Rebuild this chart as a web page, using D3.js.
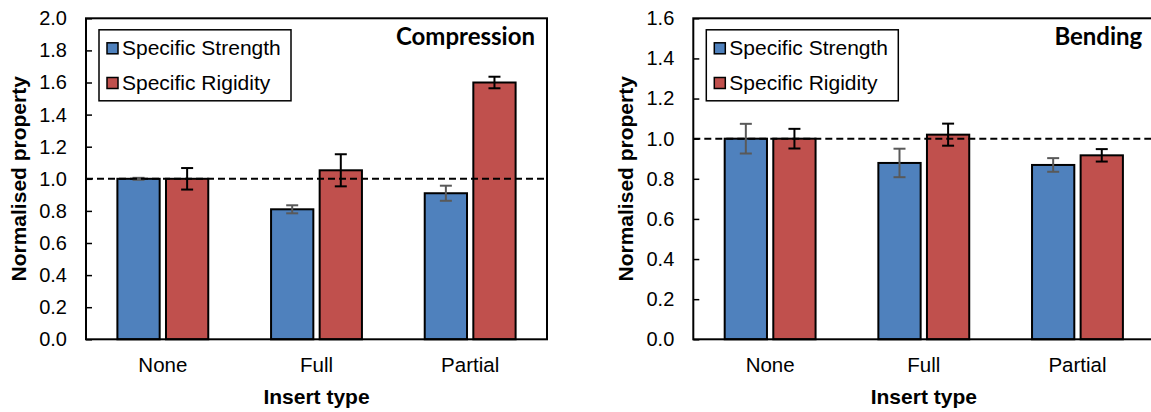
<!DOCTYPE html>
<html>
<head>
<meta charset="utf-8">
<script src="https://cdn.jsdelivr.net/npm/d3@7"></script>
<style>
  body { margin: 0; background: #fff; }
  text { font-family: "Liberation Sans", Arial, sans-serif; fill: #000; }
  .panelTitle { font-family: Lato, "Liberation Sans", sans-serif; font-weight: 700; }
</style>
</head>
<body>
<div class="chart"></div>
<script>
// Data
var categories = ["None", "Full", "Partial"];
var seriesNames = ["Specific Strength", "Specific Rigidity"];
var seriesColors = ["#4F81BD", "#C0504D"];
var errColors = ["#595959", "#000000"];

var compressionStrength = [1.00, 0.81, 0.91];
var compressionStrengthErr = [0.006, 0.025, 0.047];
var compressionRigidity = [1.00, 1.053, 1.60];
var compressionRigidityErr = [0.067, 0.10, 0.036];
var compressionTicks = [0, 0.2, 0.4, 0.6, 0.8, 1.0, 1.2, 1.4, 1.6, 1.8, 2.0];

var bendingStrength = [1.00, 0.879, 0.869];
var bendingStrengthErr = [0.074, 0.071, 0.034];
var bendingRigidity = [1.00, 1.02, 0.917];
var bendingRigidityErr = [0.049, 0.055, 0.031];
var bendingTicks = [0, 0.2, 0.4, 0.6, 0.8, 1.0, 1.2, 1.4, 1.6];

var referenceLine = 1.0;

var svgWidth = 1151;
var svgHeight = 412;

var svg = d3.select(".chart")
  .append("svg")
  .attr("width", svgWidth)
  .attr("height", svgHeight);

svg.append("rect")
  .attr("width", svgWidth)
  .attr("height", svgHeight)
  .attr("fill", "#fff");

function drawPanel(cfg) {
  var width = 461;
  var height = 321;

  var g = svg.append("g")
    .attr("transform", `translate(${cfg.left}, ${cfg.top})`);

  var x0 = d3.scaleBand()
    .domain(categories)
    .range([0, width])
    .padding(0);

  var x1 = d3.scaleBand()
    .domain(seriesNames)
    .range([0, x0.bandwidth()])
    .paddingInner(0.13)
    .paddingOuter(0.646);

  var y = d3.scaleLinear()
    .domain([0, d3.max(cfg.ticks)])
    .range([height, 0]);

  // rows: one per category, one entry per series
  var rows = categories.map(function(c, i) {
    return cfg.series.map(function(s, j) {
      return { cat: c, name: seriesNames[j], value: s.values[i], err: s.errs[i], idx: j };
    });
  });

  // y axis, ticks pointing inward
  var leftAxis = d3.axisLeft(y)
    .tickValues(cfg.ticks)
    .tickFormat(d3.format(".1f"))
    .tickSizeInner(-6)
    .tickSizeOuter(0)
    .tickPadding(19);

  var yAxisG = g.append("g").call(leftAxis);
  yAxisG.select(".domain").remove();
  yAxisG.selectAll("line").attr("stroke", "#000").attr("stroke-width", 1.5);
  yAxisG.selectAll("text")
    .attr("font-family", "'Liberation Sans', Arial, sans-serif")
    .attr("font-size", 20)
    .attr("fill", "#000");

  // category labels
  var bottomAxis = d3.axisBottom(x0)
    .tickSize(0)
    .tickPadding(18);

  var xAxisG = g.append("g")
    .attr("transform", `translate(0, ${height})`)
    .call(bottomAxis);
  xAxisG.select(".domain").remove();
  xAxisG.selectAll("text")
    .attr("font-family", "'Liberation Sans', Arial, sans-serif")
    .attr("font-size", 20.5)
    .attr("fill", "#000");

  // bars
  var groups = g.selectAll(".cat")
    .data(rows)
    .enter()
    .append("g")
    .attr("class", "cat")
    .attr("transform", d => `translate(${x0(d[0].cat)}, 0)`);

  groups.selectAll("rect")
    .data(d => d)
    .enter()
    .append("rect")
    .attr("x", d => x1(d.name))
    .attr("y", d => y(d.value))
    .attr("width", x1.bandwidth())
    .attr("height", d => height - y(d.value))
    .attr("fill", d => seriesColors[d.idx])
    .attr("stroke", "#000")
    .attr("stroke-width", 2);

  // reference dashed line
  g.append("line")
    .attr("x1", 0)
    .attr("x2", width)
    .attr("y1", y(referenceLine))
    .attr("y2", y(referenceLine))
    .attr("stroke", "#000")
    .attr("stroke-width", 2)
    .attr("stroke-dasharray", "7,4");

  // error bars
  var errG = groups.selectAll(".err")
    .data(d => d)
    .enter()
    .append("g")
    .attr("class", "err")
    .attr("stroke", d => errColors[d.idx])
    .attr("stroke-width", 2);

  var cx = d => x1(d.name) + x1.bandwidth() / 2;
  errG.append("line")
    .attr("x1", cx).attr("x2", cx)
    .attr("y1", d => y(d.value + d.err))
    .attr("y2", d => y(d.value - d.err));
  errG.append("line")
    .attr("x1", d => cx(d) - 6).attr("x2", d => cx(d) + 6)
    .attr("y1", d => y(d.value + d.err))
    .attr("y2", d => y(d.value + d.err));
  errG.append("line")
    .attr("x1", d => cx(d) - 6).attr("x2", d => cx(d) + 6)
    .attr("y1", d => y(d.value - d.err))
    .attr("y2", d => y(d.value - d.err));

  // plot frame
  g.append("rect")
    .attr("width", width)
    .attr("height", height)
    .attr("fill", "none")
    .attr("stroke", "#000")
    .attr("stroke-width", 2);

  // legend
  var legend = g.append("g")
    .attr("transform", "translate(13, 11.5)");
  legend.append("rect")
    .attr("width", 192)
    .attr("height", 71)
    .attr("fill", "#fff")
    .attr("stroke", "#000")
    .attr("stroke-width", 1.5);
  var items = legend.selectAll(".item")
    .data(seriesNames)
    .enter()
    .append("g")
    .attr("class", "item")
    .attr("transform", (d, i) => `translate(8, ${13 + i * 34.7})`);
  items.append("rect")
    .attr("width", 11)
    .attr("height", 11)
    .attr("fill", (d, i) => seriesColors[i])
    .attr("stroke", "#000")
    .attr("stroke-width", 1.5);
  items.append("text")
    .attr("x", 15)
    .attr("y", 12)
    .attr("font-size", 21)
    .text(d => d);

  // panel title
  g.append("text")
    .attr("class", "panelTitle")
    .attr("x", width - 12)
    .attr("y", 27)
    .attr("text-anchor", "end")
    .attr("font-size", 24)
    .text(cfg.title);

  // axis titles
  g.append("text")
    .attr("transform", "rotate(-90)")
    .attr("x", -height / 2)
    .attr("y", -60)
    .attr("text-anchor", "middle")
    .attr("font-size", 21)
    .attr("font-weight", "bold")
    .text("Normalised property");

  g.append("text")
    .attr("x", width / 2)
    .attr("y", height + 65)
    .attr("text-anchor", "middle")
    .attr("font-size", 21)
    .attr("font-weight", "bold")
    .text("Insert type");
}

drawPanel({
  left: 86, top: 18.3, title: "Compression", ticks: compressionTicks,
  series: [
    { values: compressionStrength, errs: compressionStrengthErr },
    { values: compressionRigidity, errs: compressionRigidityErr }
  ]
});

drawPanel({
  left: 693.3, top: 18.3, title: "Bending", ticks: bendingTicks,
  series: [
    { values: bendingStrength, errs: bendingStrengthErr },
    { values: bendingRigidity, errs: bendingRigidityErr }
  ]
});
</script>
</body>
</html>
